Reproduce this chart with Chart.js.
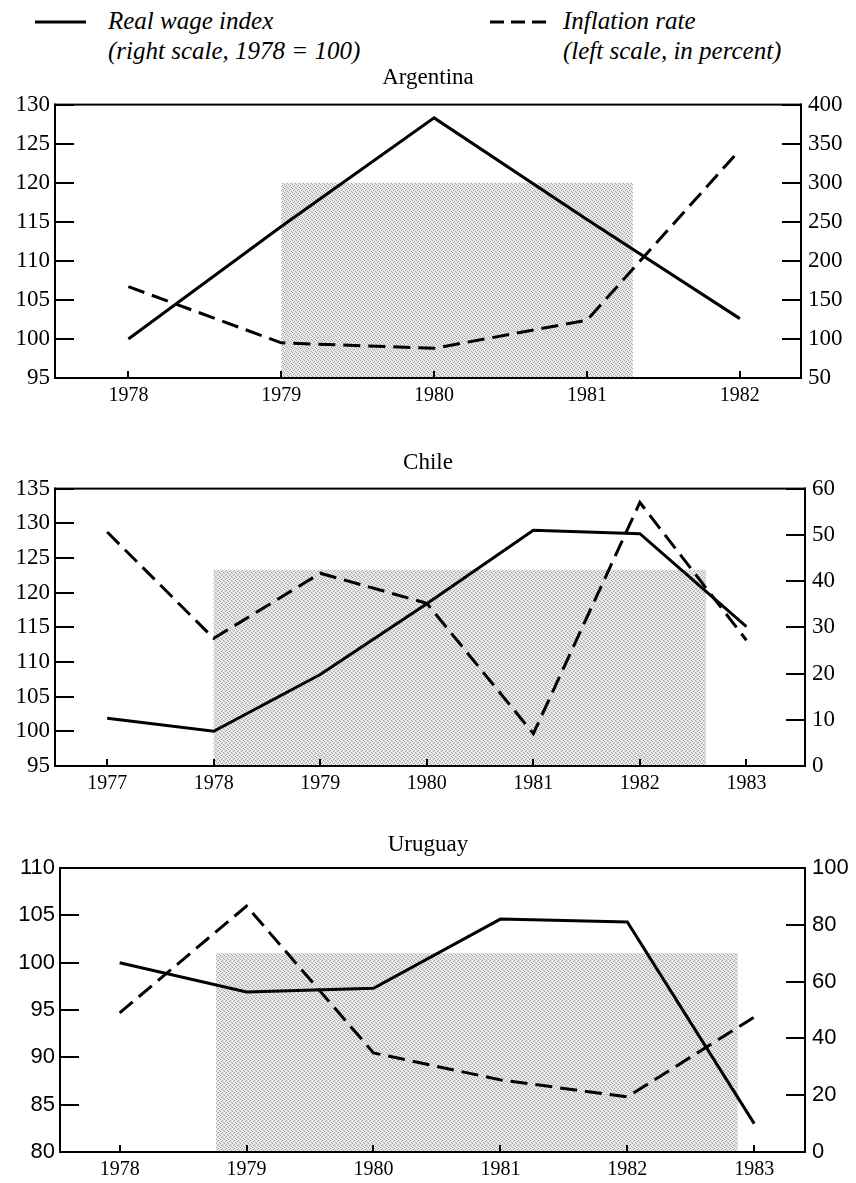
<!DOCTYPE html>
<html>
<head>
<meta charset="utf-8">
<script src="https://cdn.jsdelivr.net/npm/chart.js@4.4.1/dist/chart.umd.min.js"></script>
<style>
  body { margin: 0; background: #fff; width: 856px; height: 1183px; position: relative; overflow: hidden; }
  .leg { position: absolute; font-family: "Liberation Serif", "DejaVu Serif", serif; font-style: italic;
         font-size: 25px; line-height: 30px; color: #000; white-space: nowrap; }
  .box { position: absolute; left: 0; width: 856px; }
  #keys { position: absolute; left: 0; top: 0; }
</style>
</head>
<body>
<svg id="keys" width="856" height="60">
  <line x1="35" y1="22" x2="86" y2="22" stroke="#000" stroke-width="3"></line>
  <line x1="490" y1="22" x2="546" y2="22" stroke="#000" stroke-width="3" stroke-dasharray="14 7"></line>
</svg>
<div class="leg" style="left:108px;top:6px">Real wage index<br>(right scale, 1978 = 100)</div>
<div class="leg" style="left:563px;top:6px">Inflation rate<br>(left scale, in percent)</div>

<div class="box" style="top:56px;height:354px"><canvas id="chartArg" width="856" height="354"></canvas></div>
<div class="box" style="top:441px;height:357px"><canvas id="chartChl" width="856" height="357"></canvas></div>
<div class="box" style="top:823px;height:360px"><canvas id="chartUry" width="856" height="360"></canvas></div>

<script>
// Argentina
var argYears = [1978, 1979, 1980, 1981, 1982];
var argWage = [100, 114.4, 128.3, 115.3, 102.6];   // left scale
var argInfl = [167, 95, 88, 124, 342];             // right scale
var argShade = [1979, 1981.3, 120];                // from, to, top (left scale)

// Chile
var chlYears = [1977, 1978, 1979, 1980, 1981, 1982, 1983];
var chlWage = [101.9, 100, 108.2, 118.4, 129, 128.5, 115.1];
var chlInfl = [50.6, 27.6, 41.7, 35.2, 7, 57, 27.2];
var chlShade = [1978, 1982.62, 123.3];

// Uruguay
var uryYears = [1978, 1979, 1980, 1981, 1982, 1983];
var uryWage = [100, 96.9, 97.3, 104.6, 104.3, 83];
var uryInfl = [49, 86.6, 34.9, 25.4, 19.4, 47.5];
var uryShade = [1978.76, 1982.87, 101];

var SERIF = '"Liberation Serif", "DejaVu Serif", serif';
var SANS = '"Liberation Sans", Arial, sans-serif';

function stipple(ctx) {
  var c = document.createElement('canvas');
  c.width = 4; c.height = 4;
  var g = c.getContext('2d');
  g.fillStyle = '#e8e8e8';
  g.fillRect(0, 0, 4, 4);
  g.fillStyle = '#a4a4a4';
  [[0, 0], [2, 1], [1, 2], [3, 3]].forEach(function(p) { g.fillRect(p[0], p[1], 1, 1); });
  return ctx.createPattern(c, 'repeat');
}

function tickValues(scale) {
  var out = [];
  scale.ticks.forEach(function(t) { out.push(t.value); });
  return out;
}

// shaded period behind the lines, plus the box and the inward tick marks
var framePlugin = {
  id: 'frame',
  beforeDatasetsDraw: function(chart, args, opts) {
    var s = opts.shade;
    var ctx = chart.ctx, a = chart.chartArea;
    var x0 = chart.scales.x.getPixelForValue(s[0]);
    var x1 = chart.scales.x.getPixelForValue(s[1]);
    var y0 = chart.scales.y.getPixelForValue(s[2]);
    ctx.save();
    ctx.fillStyle = stipple(ctx);
    ctx.fillRect(x0, y0, x1 - x0, a.bottom - y0);
    ctx.restore();
  },
  afterDraw: function(chart) {
    var ctx = chart.ctx, a = chart.chartArea;
    var sy = chart.scales.y, sy2 = chart.scales.y2, sx = chart.scales.x;
    ctx.save();
    ctx.setLineDash([]);
    ctx.fillStyle = '#000';
    ctx.fillRect(a.left - 1, a.top - 1, a.right - a.left + 2, 2);
    ctx.fillRect(a.left - 1, a.bottom - 1, a.right - a.left + 2, 2);
    ctx.fillRect(a.left - 1, a.top - 1, 2, a.bottom - a.top + 2);
    ctx.fillRect(a.right - 1, a.top - 1, 2, a.bottom - a.top + 2);
    tickValues(sy).forEach(function(v) {
      ctx.fillRect(a.left, Math.round(sy.getPixelForValue(v)) - 1, 19, 2);
    });
    tickValues(sy2).forEach(function(v) {
      ctx.fillRect(a.right - 19, Math.round(sy2.getPixelForValue(v)) - 1, 19, 2);
    });
    tickValues(sx).forEach(function(v) {
      ctx.fillRect(Math.round(sx.getPixelForValue(v)) - 1, a.bottom - 7, 2, 7);
    });
    ctx.restore();
  }
};

function pts(years, vals) {
  return years.map(function(y, i) { return { x: y, y: vals[i] }; });
}

function makeChart(id, cfg) {
  var yFont = { family: cfg.yFamily, size: cfg.ySize };
  var noGrid = { display: false, drawTicks: false };
  new Chart(document.getElementById(id), {
    type: 'line',
    data: {
      datasets: [
        { label: 'Real wage index', data: pts(cfg.years, cfg.wage), yAxisID: 'y',
          borderColor: '#000', borderWidth: 3, pointRadius: 0, tension: 0 },
        { label: 'Inflation rate', data: pts(cfg.years, cfg.infl), yAxisID: 'y2',
          borderColor: '#000', borderWidth: 3, borderDash: [17, 8], pointRadius: 0, tension: 0 }
      ]
    },
    options: {
      responsive: false,
      animation: false,
      layout: { padding: 0 },
      plugins: {
        legend: { display: false },
        tooltip: { enabled: false },
        title: { display: true, text: cfg.title, color: '#000',
                 font: { family: SERIF, size: 23, weight: 'normal' },
                 padding: { top: 8, bottom: cfg.titleGap } },
        frame: { shade: cfg.shade }
      },
      scales: {
        x: {
          type: 'linear', min: cfg.xMin, max: cfg.xMax,
          afterBuildTicks: function(s) { s.ticks = cfg.years.map(function(v) { return { value: v }; }); },
          ticks: { callback: function(v) { return String(v); }, color: '#000', padding: 6,
                   maxRotation: 0, autoSkip: false, font: { family: SERIF, size: 20 } },
          grid: noGrid, border: { display: false },
          afterFit: function(s) { s.height = cfg.xHeight; }
        },
        y: {
          position: 'left', min: cfg.yMin, max: cfg.yMax,
          ticks: { stepSize: cfg.yStep, color: '#000', padding: 5, font: yFont },
          grid: noGrid, border: { display: false },
          afterFit: function(s) { s.width = cfg.leftW; }
        },
        y2: {
          position: 'right', min: cfg.y2Min, max: cfg.y2Max,
          ticks: { stepSize: cfg.y2Step, color: '#000', padding: 7, font: yFont },
          grid: noGrid, border: { display: false },
          afterFit: function(s) { s.width = cfg.rightW; }
        }
      }
    },
    plugins: [framePlugin]
  });
}

makeChart('chartArg', {
  title: 'Argentina', titleGap: 13, years: argYears, wage: argWage, infl: argInfl, shade: argShade,
  xMin: 1977.52, xMax: 1982.4, xHeight: 32,
  yMin: 95, yMax: 130, yStep: 5, y2Min: 50, y2Max: 400, y2Step: 50,
  yFamily: SERIF, ySize: 23, leftW: 55, rightW: 55
});

makeChart('chartChl', {
  title: 'Chile', titleGap: 12, years: chlYears, wage: chlWage, infl: chlInfl, shade: chlShade,
  xMin: 1976.51, xMax: 1983.55, xHeight: 32,
  yMin: 95, yMax: 135, yStep: 5, y2Min: 0, y2Max: 60, y2Step: 10,
  yFamily: SERIF, ySize: 23, leftW: 55, rightW: 51
});

makeChart('chartUry', {
  title: 'Uruguay', titleGap: 9.4, years: uryYears, wage: uryWage, infl: uryInfl, shade: uryShade,
  xMin: 1977.53, xMax: 1983.4, xHeight: 31,
  yMin: 80, yMax: 110, yStep: 5, y2Min: 0, y2Max: 100, y2Step: 20,
  yFamily: SANS, ySize: 22, leftW: 60, rightW: 51
});
</script>
</body>
</html>
